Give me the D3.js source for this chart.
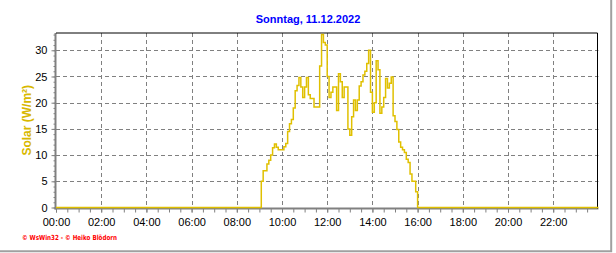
<!DOCTYPE html>
<html>
<head>
<meta charset="utf-8">
<script src="https://cdn.jsdelivr.net/npm/d3@7"></script>
<style>
    html, body { margin: 0; padding: 0; background: #ffffff; }
    svg { display: block; font-family: "Liberation Sans", Arial, sans-serif; }
</style>
</head>
<body>
<svg id="chart" width="616" height="253"></svg>
<script>
// Chart texts
const chartTitle = "Sonntag, 11.12.2022";
const yAxisLabel = "Solar (W/m²)";
const footerText = "© WsWin32 - © Heiko Blödorn";

// Axis ticks
const xTickLabels = ["00:00", "02:00", "04:00", "06:00", "08:00", "10:00", "12:00",
    "14:00", "16:00", "18:00", "20:00", "22:00"];
const yTickValues = [0, 5, 10, 15, 20, 25, 30];
const dayRange = ["00:00", "24:00"];
const yMax = 33.3;

// Solar readings (W/m²), one every 5 minutes starting at sampleStart
const sampleStart = "09:00";
const sampleStepMinutes = 5;
const solarValues = [
    0, 5, 7, 7, 8.3, 9, 10, 11.4, 12.1, 11.5, 11, 11,          // 09:00 - 09:55
    11, 11.6, 12.2, 14.5, 16, 16.8, 19, 22.3, 23.3, 24.8, 23, 21, // 10:00 - 10:55
    23, 24.8, 21.5, 20.8, 20.8, 19.2, 19.2, 19.2, 27, 33, 31.5, 31, // 11:00 - 11:55
    25, 21, 22, 23, 23, 18.5, 25.5, 24, 21, 23, 23, 15,         // 12:00 - 12:55
    13.8, 17.3, 20.5, 18.5, 20.5, 23.2, 24, 25.3, 26, 27.5, 30, 22, // 13:00 - 13:55
    18.2, 20, 28, 26.3, 18, 19.2, 21, 24.6, 22.8, 23.7, 24.9, 17.5, // 14:00 - 14:55
    16.4, 14.9, 12.5, 11.5, 11, 10.5, 9.2, 8.6, 6.4, 5, 5, 3,   // 15:00 - 15:55
    0                                                           // 16:00
];

const colors = {
    line: "#e0c000",
    label: "#d8b800",
    title: "#0000ff",
    footer: "#ff0000",
    grid: "#808080",
    axis: "#808080",
    frame: "#000000",
    border: "#a0a0a0"
};

const plot = { left: 56, right: 598.4, top: 33, bottom: 207.5 };

/**
 * Converts a "HH:MM" string into decimal hours
 * @param {string} hhmm
 * @return {number}
 */
function toHours(hhmm) {
    const parts = hhmm.split(":");
    return +parts[0] + +parts[1] / 60;
}

const svg = d3.select("#chart");

const x = d3
    .scaleLinear()
    .domain(dayRange.map(toHours))
    .range([plot.left, plot.right]);

const y = d3
    .scaleLinear()
    .domain([0, yMax])
    .range([plot.bottom, plot.top]);

// Build the series: zero before the first sample and after the last one
const startHours = toHours(sampleStart);
const series = [{ t: toHours(dayRange[0]), v: 0 }]
    .concat(solarValues.map((v, i) => ({ t: startHours + (i * sampleStepMinutes) / 60, v: v })))
    .concat([{ t: toHours(dayRange[1]), v: 0 }]);

// Dashed grid
const grid = svg.append("g").attr("class", "grid");
grid.selectAll("line.vgrid")
    .data(xTickLabels.slice(1).map(toHours))
    .enter()
    .append("line")
    .attr("x1", (d) => Math.round(x(d)) + 0.5)
    .attr("x2", (d) => Math.round(x(d)) + 0.5)
    .attr("y1", plot.top)
    .attr("y2", plot.bottom)
    .attr("stroke", colors.grid)
    .attr("stroke-width", 1)
    .attr("stroke-dasharray", "4,3");

grid.selectAll("line.hgrid")
    .data(yTickValues.slice(1))
    .enter()
    .append("line")
    .attr("x1", plot.left)
    .attr("x2", plot.right)
    .attr("y1", (d) => Math.round(y(d)) + 0.5)
    .attr("y2", (d) => Math.round(y(d)) + 0.5)
    .attr("stroke", colors.grid)
    .attr("stroke-width", 1)
    .attr("stroke-dasharray", "4,3");

// Bottom axis: minor ticks every 30 minutes, labels every 2 hours
const xAxisY = plot.bottom + 1;
const xMinor = svg.append("g")
    .attr("transform", "translate(0," + xAxisY + ")")
    .call(d3.axisBottom(x).tickValues(d3.range(0, 24, 0.5)).tickSize(4).tickFormat(""));
const xMajor = svg.append("g")
    .attr("transform", "translate(0," + xAxisY + ")")
    .call(d3.axisBottom(x)
        .tickValues(xTickLabels.map(toHours))
        .tickSize(4)
        .tickPadding(6)
        .tickFormat((d, i) => xTickLabels[i]));

// Left axis: minor ticks every unit, labels every 5
const yAxisX = plot.left - 0.5;
const yMinor = svg.append("g")
    .attr("transform", "translate(" + yAxisX + ",0)")
    .call(d3.axisLeft(y).tickValues(d3.range(0, 34, 1)).tickSize(2).tickFormat(""));
const yMajor = svg.append("g")
    .attr("transform", "translate(" + yAxisX + ",0)")
    .call(d3.axisLeft(y).tickValues(yTickValues).tickSize(4).tickPadding(4));

[xMinor, xMajor, yMinor, yMajor].forEach((g) => {
    g.select(".domain").remove();
    g.selectAll(".tick line").attr("stroke", colors.axis);
    g.selectAll(".tick text")
        .attr("fill", "#000000")
        .style("font-size", "11px")
        .style("font-family", "'Liberation Sans', Arial, sans-serif");
});

// Thick gray axis lines
svg.append("line")
    .attr("x1", yAxisX)
    .attr("x2", yAxisX)
    .attr("y1", plot.top)
    .attr("y2", xAxisY + 1)
    .attr("stroke", colors.axis)
    .attr("stroke-width", 2);
svg.append("line")
    .attr("x1", yAxisX - 1)
    .attr("x2", plot.right)
    .attr("y1", xAxisY)
    .attr("y2", xAxisY)
    .attr("stroke", colors.axis)
    .attr("stroke-width", 2);

// Top and right frame
svg.append("path")
    .attr("d", d3.line()([
        [plot.left, plot.top],
        [plot.right - 0.9, plot.top],
        [plot.right - 0.9, xAxisY]
    ]))
    .attr("fill", "none")
    .attr("stroke", colors.frame)
    .attr("stroke-width", 1);

// Solar line
svg.append("path")
    .datum(series)
    .attr("d", d3.line()
        .x((d) => x(d.t))
        .y((d) => y(d.v))
        .curve(d3.curveStepAfter))
    .attr("fill", "none")
    .attr("stroke", colors.line)
    .attr("stroke-width", 1.5);

// Title
svg.append("text")
    .attr("x", 308)
    .attr("y", 23)
    .attr("text-anchor", "middle")
    .attr("fill", colors.title)
    .style("font-size", "11px")
    .style("font-weight", "bold")
    .text(chartTitle);

// Y axis label
svg.append("text")
    .attr("transform", "translate(31," + (plot.top + plot.bottom) / 2 + ") rotate(-90)")
    .attr("text-anchor", "middle")
    .attr("fill", colors.label)
    .style("font-size", "12px")
    .style("font-weight", "bold")
    .text(yAxisLabel);

// Footer credits
svg.append("text")
    .attr("x", 22)
    .attr("y", 240)
    .attr("fill", colors.footer)
    .attr("textLength", 95)
    .attr("lengthAdjust", "spacingAndGlyphs")
    .style("font-size", "7px")
    .style("font-weight", "bold")
    .style("font-family", "'DejaVu Sans', sans-serif")
    .text(footerText);

// Outer window border (right and bottom)
svg.append("path")
    .attr("d", d3.line()([[0, 251.3], [611.2, 251.3], [611.2, 0]]))
    .attr("fill", "none")
    .attr("stroke", colors.border)
    .attr("stroke-width", 2);
</script>
</body>
</html>
